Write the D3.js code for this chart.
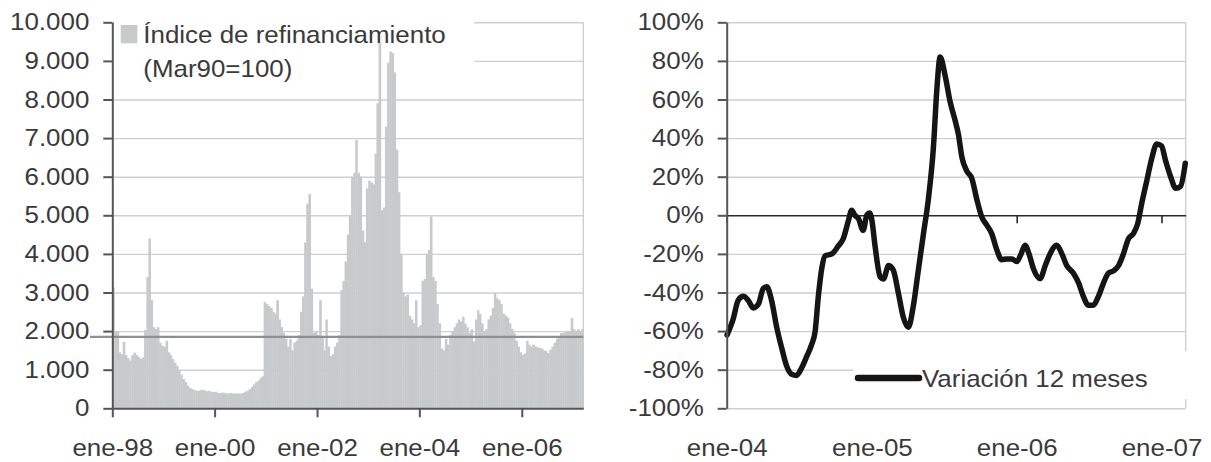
<!DOCTYPE html>
<html>
<head>
<meta charset="utf-8">
<script src="https://cdn.jsdelivr.net/npm/d3@7"></script>
<style>
  body { margin: 0; background: #fff; }
  svg text { font-family: "Liberation Sans", Arial, Helvetica, sans-serif; fill: #3a3a3a; }
</style>
</head>
<body>
<svg id="chart" width="1211" height="462"></svg>
<script>
// ---- Índice de refinanciamiento (Mar90=100), semi-monthly from ene-98 ----
const indiceInicio = "1998-01-01";
const indiceValores = [
  3130, 2000, 1980, 1450, 1400, 1720, 1380, 1300, 1240, 1380, 1440, 1380,
  1330, 1280, 1320, 2030, 3400, 4400, 2800, 2100, 2050, 2100, 1700, 1620,
  1600, 1750, 1450, 1380, 1280, 1180, 1100, 980, 870, 760, 680, 590,
  530, 500, 470, 460, 450, 470, 480, 460, 440, 450, 430, 420,
  430, 400, 390, 410, 400, 380, 390, 400, 385, 380, 390, 385,
  380, 400, 430, 460, 500, 560, 620, 680, 720, 780, 830, 2750,
  2700, 2650, 2600, 2500, 2450, 2800, 2300, 2100, 1950, 1800, 1600, 1800,
  1500, 1700, 1750, 1900, 2500, 2900, 4300, 5300, 5550, 3100, 1950, 2000,
  1900, 2800, 1850, 1500, 2300, 1600, 1350, 1400, 1600, 1700, 1900, 3060,
  3300, 3800, 4500, 5000, 6000, 6100, 6950, 6100, 6000, 4600, 4300, 5700,
  5900, 5850, 5800, 6600, 7900, 9460, 5130, 5200, 7300, 8950, 9240, 9200,
  8700, 6700, 5600, 4000, 3000, 2900, 2950, 2400, 2300, 2200, 2800, 2100,
  2150, 3300, 3350, 4000, 4100, 4970, 3400, 3300, 2700, 2200, 1550, 1500,
  1800, 1650, 1900, 2000, 2100, 2200, 2300, 2250, 2370, 2200, 2100, 1950,
  2050, 1730, 2300, 2550, 2450, 2200, 2000, 2050, 2300, 2400, 2600, 2980,
  2850, 2800, 2700, 2450, 2400, 2350, 2200, 2050, 1950, 1750, 1600, 1450,
  1380, 1420, 1750, 1650, 1600, 1650, 1600, 1580, 1560, 1550, 1500, 1480,
  1430, 1520, 1600, 1700, 1800, 1850, 1950, 1950, 2000, 1980, 2000, 2340,
  2050, 2000, 2050, 2000, 2050
];
const indiceReferencia = 1850;
const indiceTicksY = [0, 1000, 2000, 3000, 4000, 5000, 6000, 7000, 8000, 9000, 10000];
const indiceTicksX = ["1998-01-01", "2000-01-01", "2002-01-01", "2004-01-01", "2006-01-01"];
const indiceLeyenda = ["Índice de refinanciamiento", "(Mar90=100)"];

// ---- Variación 12 meses del índice ----
const variacionFechas = [
  "2004-01-02", "2004-01-17", "2004-01-30", "2004-02-12", "2004-02-24", "2004-03-08",
  "2004-03-21", "2004-04-02", "2004-04-11", "2004-04-23", "2004-05-06", "2004-05-19",
  "2004-05-31", "2004-06-13", "2004-06-25", "2004-07-08", "2004-07-21", "2004-08-02",
  "2004-08-11", "2004-08-19", "2004-08-28", "2004-09-05", "2004-09-22", "2004-10-08",
  "2004-10-21", "2004-11-03", "2004-11-11", "2004-11-19", "2004-11-28", "2004-12-10",
  "2004-12-19", "2004-12-26", "2005-01-01", "2005-01-09", "2005-01-22", "2005-01-30",
  "2005-02-12", "2005-02-24", "2005-03-09", "2005-03-21", "2005-04-03", "2005-04-15",
  "2005-04-28", "2005-05-11", "2005-05-23", "2005-06-05", "2005-06-14", "2005-06-22",
  "2005-07-05", "2005-07-17", "2005-07-30", "2005-08-07", "2005-08-16", "2005-08-28",
  "2005-09-10", "2005-09-23", "2005-10-05", "2005-10-18", "2005-10-30", "2005-11-12",
  "2005-11-24", "2005-12-07", "2005-12-20", "2006-01-01", "2006-01-12", "2006-01-22",
  "2006-02-01", "2006-02-12", "2006-03-01", "2006-03-14", "2006-03-26", "2006-04-12",
  "2006-04-25", "2006-05-07", "2006-05-24", "2006-06-06", "2006-06-18", "2006-07-01",
  "2006-07-13", "2006-07-26", "2006-08-08", "2006-08-20", "2006-09-02", "2006-09-15",
  "2006-09-27", "2006-10-10", "2006-10-22", "2006-11-02", "2006-11-12", "2006-11-25",
  "2006-12-08", "2006-12-20", "2007-01-01", "2007-01-11", "2007-01-24", "2007-02-06",
  "2007-02-18", "2007-03-02"
];
const variacionValores = [
  -0.62, -0.54, -0.44, -0.42, -0.44, -0.48,
  -0.46, -0.38, -0.37, -0.44, -0.58, -0.69,
  -0.78, -0.824, -0.83, -0.79, -0.73, -0.67,
  -0.60, -0.42, -0.27, -0.21, -0.20, -0.16,
  -0.12, -0.026, 0.026, 0.0, -0.017, -0.078,
  0.0, 0.012, -0.026, -0.16, -0.32, -0.33,
  -0.26, -0.285, -0.406, -0.527, -0.58, -0.475,
  -0.285, -0.095, 0.078, 0.35, 0.66, 0.82,
  0.72, 0.59, 0.49, 0.42, 0.30, 0.23,
  0.19, 0.078, -0.009, -0.052, -0.095, -0.18,
  -0.23, -0.226, -0.226, -0.24, -0.20, -0.155,
  -0.20, -0.276, -0.328, -0.26, -0.20, -0.155,
  -0.20, -0.26, -0.30, -0.35, -0.42, -0.466,
  -0.466, -0.42, -0.35, -0.30, -0.288, -0.26,
  -0.20, -0.12, -0.095, -0.043, 0.06, 0.18,
  0.30, 0.37, 0.36, 0.285, 0.20, 0.14,
  0.15, 0.27
];
const variacionTicksY = [-1, -0.8, -0.6, -0.4, -0.2, 0, 0.2, 0.4, 0.6, 0.8, 1];
const variacionTicksX = ["2004-01-01", "2005-01-01", "2006-01-01", "2007-01-01"];
const variacionLeyenda = "Variación 12 meses";

// ---- shared look ----
const FONT = 24;          // label size
const SX = 1.08;          // the typeface is set slightly wide
const GRID = "#cfcfcf";
const AXIS = "#555";
const parse = d3.utcParse("%Y-%m-%d");
const svg = d3.select("#chart");

const mesesAbr = ["ene","feb","mar","abr","may","jun","jul","ago","sep","oct","nov","dic"];
const fmtFecha = d => mesesAbr[d.getUTCMonth()] + "-" + String(d.getUTCFullYear()).slice(2);

// Percent with a plain hyphen for negatives, e.g. "-20%"
const fmtPct = v => Math.round(v * 100) + "%";

function styleLabels(sel) {
  sel.selectAll("text")
    .style("font-size", FONT + "px")
    .attr("fill", "#3a3a3a")
    .attr("transform", `scale(${SX},1)`);
}

// Thousands with a dot, as in "10.000"
const fmtMiles = v => d3.format(",")(v).replace(/,/g, ".");

// =================== Left panel: index bars ===================
{
  const left = 112.3, right = 583.3, top = 22.3, bottom = 408.3;

  // semi-monthly periods: 1st and 16th of each month
  const start = parse(indiceInicio);
  const periodo = i => {
    const y = start.getUTCFullYear() + Math.floor(i / 24);
    const m = Math.floor((i % 24) / 2);
    return new Date(Date.UTC(y, m, i % 2 ? 16 : 1));
  };
  const barras = indiceValores.map((v, i) => ({ d0: periodo(i), d1: periodo(i + 1), v }));

  const x = d3.scaleUtc()
    .domain([start, barras[barras.length - 1].d1])
    .range([left, right]);
  const y = d3.scaleLinear().domain([0, 10000]).range([bottom, top]);

  // gridlines
  const grid = svg.append("g").attr("transform", `translate(${left},0)`)
    .call(d3.axisLeft(y).tickValues(indiceTicksY.filter(t => t > 0))
      .tickSize(-(right - left)).tickFormat(""));
  grid.select(".domain").remove();
  grid.selectAll("line").attr("stroke", GRID).attr("stroke-width", 1.4);

  // plot frame on the right
  svg.append("line").attr("x1", right).attr("x2", right).attr("y1", top).attr("y2", bottom)
    .attr("stroke", GRID).attr("stroke-width", 1.4);

  // legend area masks the gridlines behind it
  svg.append("rect").attr("x", left + 1.5).attr("y", 10).attr("width", 474 - left - 1.5).attr("height", 76)
    .attr("fill", "#fff");

  // bars
  svg.append("g").selectAll("rect").data(barras).join("rect")
    .attr("x", d => x(d.d0))
    .attr("width", d => x(d.d1) - x(d.d0) + 0.4)
    .attr("y", d => y(d.v))
    .attr("height", d => y(0) - y(d.v))
    .attr("fill", "#c8c9cb");

  // reference level line
  svg.append("line")
    .attr("x1", 90).attr("x2", right)
    .attr("y1", y(indiceReferencia)).attr("y2", y(indiceReferencia))
    .attr("stroke", "#8f8f8f").attr("stroke-width", 2.2);

  // y axis
  const ay = svg.append("g").attr("transform", `translate(${left},0)`)
    .call(d3.axisLeft(y).tickValues(indiceTicksY).tickSize(9).tickSizeOuter(0).tickFormat(fmtMiles));
  ay.select(".domain").attr("stroke", AXIS).attr("stroke-width", 2);
  ay.selectAll("line").attr("stroke", AXIS).attr("stroke-width", 2);
  styleLabels(ay);
  ay.selectAll("text").attr("x", -23 / SX);

  // x axis
  const ax = svg.append("g").attr("transform", `translate(0,${bottom})`)
    .call(d3.axisBottom(x).tickValues(indiceTicksX.map(parse)).tickSize(9).tickSizeOuter(0)
      .tickPadding(22).tickFormat(fmtFecha));
  ax.select(".domain").attr("stroke", AXIS).attr("stroke-width", 2);
  ax.selectAll("line").attr("stroke", AXIS).attr("stroke-width", 2);
  styleLabels(ax);

  // legend
  svg.append("rect").attr("x", 120.7).attr("y", 25).attr("width", 16.6).attr("height", 18.3)
    .attr("fill", "#c8c9cb");
  indiceLeyenda.forEach((t, i) => {
    svg.append("text")
      .attr("transform", `translate(143.3,${43.3 + i * 34}) scale(${SX},1)`)
      .style("font-size", FONT + "px")
      .text(t);
  });
}

// =================== Right panel: 12-month change ===================
{
  const left = 726.7, right = 1185.7, top = 22.3, bottom = 408.3;
  const puntos = variacionFechas.map((f, i) => ({ d: parse(f), v: variacionValores[i] }));

  const x = d3.scaleUtc()
    .domain([parse("2004-01-01"), parse("2007-03-03")])
    .range([left, right]);
  const y = d3.scaleLinear().domain([-1, 1]).range([bottom, top]);

  // gridlines
  const grid = svg.append("g").attr("transform", `translate(${left},0)`)
    .call(d3.axisLeft(y).tickValues(variacionTicksY.filter(t => t !== 0))
      .tickSize(-(right - left)).tickFormat(""));
  grid.select(".domain").remove();
  grid.selectAll("line").attr("stroke", GRID).attr("stroke-width", 1.4);

  svg.append("line").attr("x1", right).attr("x2", right).attr("y1", top).attr("y2", bottom)
    .attr("stroke", GRID).attr("stroke-width", 1.4);

  // legend box
  svg.append("rect").attr("x", 853).attr("y", 351).attr("width", 342).attr("height", 48)
    .attr("fill", "#fff");

  // horizontal axis through 0%
  const ax0 = svg.append("g").attr("transform", `translate(0,${y(0)})`)
    .call(d3.axisBottom(x).tickValues(variacionTicksX.map(parse)).tickSize(8).tickSizeOuter(0).tickFormat(""));
  ax0.select(".domain").attr("stroke", "#2a2a2a").attr("stroke-width", 1.6);
  ax0.selectAll("line").attr("stroke", "#2a2a2a").attr("stroke-width", 1.6);

  // line
  const linea = d3.line().x(d => x(d.d)).y(d => y(d.v)).curve(d3.curveMonotoneX);
  svg.append("path").datum(puntos)
    .attr("d", linea)
    .attr("fill", "none")
    .attr("stroke", "#151515")
    .attr("stroke-width", 5.5)
    .attr("stroke-linejoin", "round")
    .attr("stroke-linecap", "round");

  // date labels along the bottom
  const axl = svg.append("g").attr("transform", `translate(0,${bottom})`)
    .call(d3.axisBottom(x).tickValues(variacionTicksX.map(parse)).tickSize(0).tickPadding(31)
      .tickFormat(fmtFecha));
  axl.select(".domain").remove();
  styleLabels(axl);

  // y axis
  const ay = svg.append("g").attr("transform", `translate(${left},0)`)
    .call(d3.axisLeft(y).tickValues(variacionTicksY).tickSize(9).tickSizeOuter(0)
      .tickFormat(fmtPct));
  ay.select(".domain").attr("stroke", AXIS).attr("stroke-width", 2);
  ay.selectAll("line").attr("stroke", AXIS).attr("stroke-width", 2);
  styleLabels(ay);
  ay.selectAll("text").attr("x", -23 / SX);

  // legend
  svg.append("line").attr("x1", 858).attr("x2", 919).attr("y1", 378).attr("y2", 378)
    .attr("stroke", "#151515").attr("stroke-width", 6.5).attr("stroke-linecap", "round");
  svg.append("text")
    .attr("transform", `translate(922,387) scale(${SX},1)`)
    .style("font-size", FONT + "px")
    .text(variacionLeyenda);
}
</script>
</body>
</html>
